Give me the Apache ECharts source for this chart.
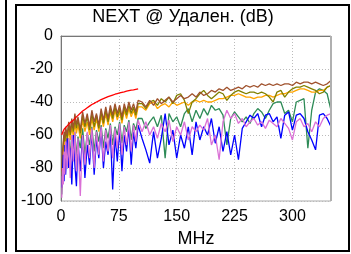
<!DOCTYPE html>
<html>
<head>
<meta charset="utf-8">
<script src="https://cdn.jsdelivr.net/npm/echarts@6/dist/echarts.min.js"></script>
<style>
  html, body { margin: 0; padding: 0; background: #fff; }
  #main { width: 351px; height: 254px; }
</style>
</head>
<body>
<div id="main"></div>
<script>
// частоты (MHz)
var freqs = [1,2,3,4,5,6,8,10,12,14,16,18,20,22,25,28,31,34,37,40,43,46,49,52,55,58,61,64,67,70,73,76,79,82,85,88,91,94,97,100,
  105,110,115,120,125,130,135,140,145,150,155,160,165,170,175,180,185,190,195,200,205,210,215,220,225,230,235,240,245,250,
  255,260,265,270,275,280,285,290,295,300,305,310,315,320,325,330,335,340,345,350];

// предел (красный), до 100 MHz
var limitDb = [-60,-58.5,-57.5,-56.5,-56,-55.5,-54.5,-53.5,-52.5,-51.8,-51,-50,-49,-48,-46.8,-45.5,-44.5,-43.5,-42.5,-41.5,
  -40.8,-40,-39.3,-38.6,-38,-37.4,-36.8,-36.3,-35.8,-35.3,-34.9,-34.5,-34.1,-33.8,-33.4,-33.1,-32.8,-32.6,-32.3,-32];

var brownDb = [-82,-70,-64,-58,-62,-55,-60,-52,-58,-50,-56,-47,-54,-49,-57,-46,-53,-47,-55,-45,-52,-47,-54,-44,-51,-43,-50,-42,-48,-41,
  -47,-42,-49,-41,-46,-40,-45,-41,-46,-39,-40,-43,-39,-42,-38,-41,-39,-37,-40,-38,-36,-38,-37,-35,-37,-34,-36,-35,-33,-34,
  -32,-33,-31,-33,-32,-31,-32,-30,-31,-30,-31,-29,-30,-29,-30,-29,-30,-29,-29,-30,-28,-29,-28,-28,-29,-28,-29,-30,-29,-27];

var oliveDb = [-85,-72,-66,-60,-64,-57,-62,-54,-60,-52,-58,-50,-56,-51,-59,-48,-55,-49,-57,-47,-55,-48,-56,-46,-53,-45,-52,-44,-50,-43,
  -49,-44,-51,-43,-48,-42,-47,-43,-48,-41,-41,-44,-40,-39,-42,-38,-40,-37,-41,-36,-35,-39,-47,-40,-38,-35,-33,-36,-38,-36,
  -34,-35,-39,-36,-34,-33,-34,-35,-34,-34,-35,-34,-35,-37,-40,-34,-33,-37,-34,-32,-31,-31,-30,-31,-32,-33,-35,-34,-31,-30];

var orangeDb = [-92,-78,-70,-64,-68,-60,-65,-57,-63,-55,-61,-53,-59,-54,-62,-51,-58,-52,-60,-50,-57,-50,-58,-48,-55,-47,-54,-46,-52,-45,
  -51,-46,-53,-45,-50,-44,-49,-45,-50,-43,-43,-45,-41,-40,-44,-42,-41,-43,-40,-42,-41,-40,-42,-40,-39,-40,-39,-40,-40,-39,
  -38,-38,-37,-36,-36,-35,-36,-37,-37,-38,-37,-37,-36,-36,-37,-36,-35,-35,-34,-34,-33,-32,-32,-33,-34,-34,-33,-33,-31,-30];

var greenDb = [-96,-86,-78,-70,-80,-66,-75,-62,-72,-60,-70,-58,-74,-61,-68,-56,-72,-59,-66,-55,-70,-57,-64,-54,-68,-56,-62,-53,-66,-55,
  -60,-52,-65,-54,-58,-51,-63,-53,-57,-50,-50,-56,-52,-49,-55,-48,-74,-47,-52,-49,-55,-47,-44,-52,-45,-50,-44,-48,-42,-45,
  -44,-48,-66,-50,-46,-49,-52,-49,-53,-47,-44,-46,-50,-45,-41,-40,-40,-47,-45,-52,-40,-39,-38,-68,-45,-34,-32,-33,-35,-45];

var blueDb = [-92,-82,-72,-88,-66,-84,-62,-80,-68,-90,-60,-78,-91,-64,-82,-60,-86,-66,-78,-58,-84,-62,-74,-56,-80,-64,-72,-58,-93,-60,
  -76,-56,-82,-60,-70,-55,-78,-58,-68,-54,-62,-69,-77,-58,-74,-62,-47,-66,-57,-74,-60,-68,-55,-72,-52,-63,-55,-60,-50,-65,
  -55,-70,-58,-72,-60,-75,-56,-52,-48,-50,-47,-55,-48,-47,-52,-49,-62,-48,-46,-57,-48,-47,-50,-58,-63,-69,-48,-47,-50,-55];

var violetDb = [-98,-80,-90,-70,-84,-64,-80,-62,-86,-60,-76,-58,-82,-62,-97,-60,-78,-58,-74,-56,-80,-58,-72,-55,-76,-57,-70,-54,-74,-56,
  -68,-53,-72,-55,-66,-52,-70,-54,-64,-51,-58,-52,-60,-55,-62,-53,-58,-51,-64,-55,-60,-52,-63,-55,-58,-54,-57,-50,-66,-60,
  -75,-52,-45,-50,-47,-53,-50,-55,-52,-50,-54,-52,-56,-51,-53,-55,-50,-53,-56,-63,-52,-50,-55,-53,-58,-52,-55,-50,-48,-47];

// пары [частота, значение]
function pairs(vals) {
    var out = [];
    for (var i = 0; i < vals.length; i++) {
        out.push([freqs[i], vals[i]]);
    }
    return out;
}

function line(name, color, vals, z) {
    return {
        name: name,
        type: 'line',
        data: pairs(vals),
        showSymbol: false,
        symbol: 'none',
        z: z,
        lineStyle: { color: color, width: 1.3 }
    };
}

var chart = echarts.init(document.getElementById('main'));

var option = {
    animation: false,
    backgroundColor: '#fff',
    textStyle: { fontFamily: 'Liberation Sans, Arial, sans-serif' },
    grid: {
        left: 61, top: 36, right: 20, bottom: 53,
        show: true,
        borderColor: '#aaa',
        borderWidth: 1
    },
    graphic: [
        // рамка панели
        { type: 'rect', shape: { x: 16, y: 5, width: 333, height: 246 },
          style: { fill: null, stroke: '#000', lineWidth: 2 }, z: 10 },
        // край соседней панели
        { type: 'line', shape: { x1: 6, y1: 0, x2: 6, y2: 252 },
          style: { stroke: '#000', lineWidth: 2 }, z: 10 },
        // правая граница графика
        { type: 'line', shape: { x1: 331, y1: 36, x2: 331, y2: 201 },
          style: { stroke: '#b0b0b0', lineWidth: 2 }, z: 10 },
        { type: 'text', x: 183, y: 17, z: 10,
          style: { text: 'NEXT @ Удален. (dB)', fill: '#000', font: '18px Liberation Sans, Arial, sans-serif',
                   align: 'center', verticalAlign: 'middle' } }
    ],
    xAxis: {
        type: 'value',
        min: 0, max: 350, interval: 75,
        name: 'MHz',
        nameLocation: 'middle',
        nameGap: 29,
        nameTextStyle: { fontSize: 18, color: '#000' },
        axisLine: { show: true, lineStyle: { color: '#777' } },
        axisTick: { show: false },
        axisLabel: { fontSize: 16, color: '#000', margin: 8, showMaxLabel: false },
        splitLine: { show: true, lineStyle: { color: '#bbb', type: [1, 2] } }
    },
    yAxis: {
        type: 'value',
        min: -100, max: 0, interval: 20,
        axisLine: { show: true, lineStyle: { color: '#777' } },
        axisTick: { show: false },
        axisLabel: { fontSize: 16, color: '#000', margin: 8 },
        splitLine: { show: true, lineStyle: { color: '#bbb', type: [1, 2] } }
    },
    series: [
        line('green', '#2e8b57', greenDb, 2),
        line('orange', '#ffa500', orangeDb, 3),
        line('olive', '#808000', oliveDb, 4),
        line('brown', '#a0522d', brownDb, 5),
        line('blue', '#0000ff', blueDb, 6),
        line('violet', '#da70d6', violetDb, 7),
        line('limit', '#ff0000', limitDb, 8)
    ]
};

chart.setOption(option);
</script>
</body>
</html>
